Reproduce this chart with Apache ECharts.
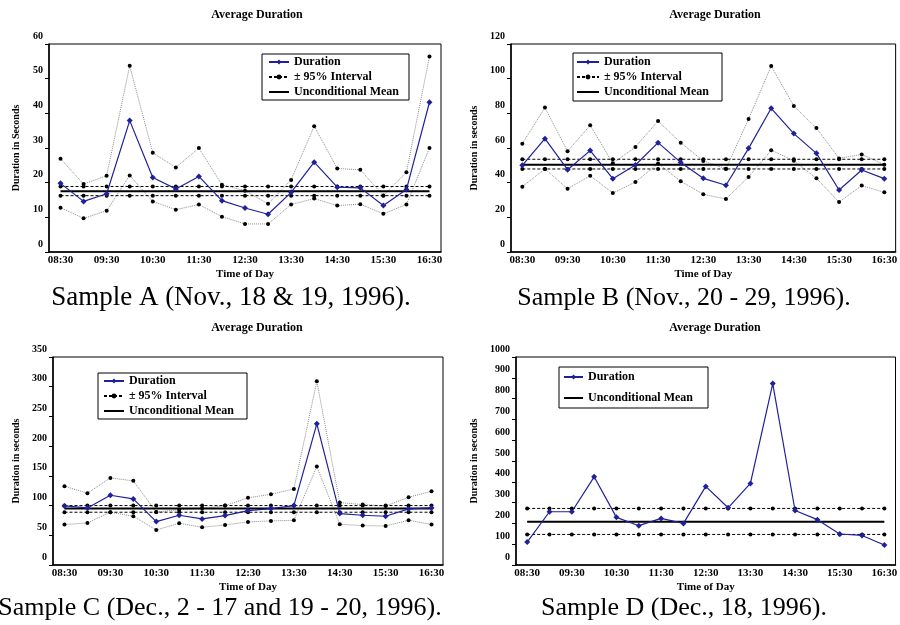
<!DOCTYPE html>
<html>
<head>
  <meta charset="utf-8">
  <title>Average Duration</title>
  <script src="https://cdn.jsdelivr.net/npm/echarts@6/dist/echarts.min.js"></script>
  <style>
    body { margin: 0; background: #fff; }
    #main { width: 900px; height: 625px; }
  </style>
</head>
<body>
<div id="main"></div>
<script type="text/javascript">

  // time slots (every half hour)
  var times = ['08:30', '09:00', '09:30', '10:00', '10:30', '11:00', '11:30', '12:00', '12:30',
               '13:00', '13:30', '14:00', '14:30', '15:00', '15:30', '16:00', '16:30'];

  // Sample A
  var durA = [19.8, 14.6, 16.8, 37.9, 21.5, 18.2, 21.8, 14.8, 12.7, 10.9, 17.2, 25.9, 18.7, 18.5, 13.4, 18.0, 43.2];
  var upA  = [26.9, 19.6, 22.0, 53.7, 28.6, 24.4, 30.0, 19.4, 17.7, 13.9, 20.8, 36.3, 24.1, 23.7, 16.3, 23.0, 56.4];
  var loA  = [12.8, 9.7, 11.9, 22.1, 14.6, 12.2, 13.7, 10.2, 8.1, 8.1, 13.7, 15.4, 13.4, 13.8, 11.0, 13.7, 30.0];
  var meanA = 17.5;
  var bandA = [16.25, 18.9];

  // Sample B
  var durB = [50.0, 65.4, 47.5, 58.5, 42.3, 50.2, 63.1, 51.7, 42.5, 38.5, 59.8, 82.9, 68.3, 56.9, 35.8, 47.3, 42.3];
  var upB  = [62.5, 83.3, 58.1, 73.1, 51.2, 60.6, 75.6, 63.1, 52.5, 48.1, 76.7, 107.3, 84.2, 71.5, 54.0, 56.3, 50.4];
  var loB  = [37.7, 47.9, 36.5, 44.0, 34.0, 40.4, 51.0, 40.8, 33.3, 30.6, 43.3, 58.7, 52.7, 42.5, 28.8, 38.3, 34.4];
  var meanB = 50.4;
  var bandB = [47.9, 53.5];

  // Sample C
  var durC = [99.4, 96, 117.4, 111.2, 73, 83.7, 77.5, 83.1, 91.6, 94.9, 100, 237.6, 86.5, 83.7, 82, 94.4, 96];
  var upC  = [132.6, 120.8, 146.6, 141.6, 89.3, 93, 95, 100, 113, 119, 128, 309, 105, 101.7, 99.4, 114, 124];
  var loC  = [68, 70.8, 88.8, 82, 59, 70.2, 63.5, 67.4, 72.5, 74.2, 75.3, 165.7, 68.5, 66.3, 65.7, 75.3, 68];
  var meanC = 95;
  var bandC = [88.8, 100];

  // Sample D
  var durD = [110, 256, 256, 424, 229, 189, 224, 200, 378, 275, 392, 872, 262, 218, 149, 142, 96];
  var meanD = 208;
  var bandD = [147, 272];

  var yMax = [60, 120, 350, 1000];
  var yStep = [10, 20, 50, 100];
  var yNames = ['Duration in Seconds', 'Duration in seconds', 'Duration in seconds', 'Duration in seconds'];
  var captions = ['Sample A (Nov., 18 & 19, 1996).', 'Sample B (Nov., 20 - 29, 1996).',
                  'Sample C (Dec., 2 - 17 and 19 - 20, 1996).', 'Sample D (Dec., 18, 1996).'];

  var FONT = '"Liberation Serif", "Times New Roman", serif';
  var BLUE = '#20209a';

  var panels = [
    {dur: durA, up: upA, lo: loA, mean: meanA, band: bandA},
    {dur: durB, up: upB, lo: loB, mean: meanB, band: bandB},
    {dur: durC, up: upC, lo: loC, mean: meanC, band: bandC},
    {dur: durD, up: null, lo: null, mean: meanD, band: bandD}
  ];

  // layout of the four panels
  var grids = [
    {left: 49, top: 44, width: 392, height: 208},
    {left: 511, top: 44, width: 390, height: 208},
    {left: 53, top: 357, width: 390, height: 208},
    {left: 516, top: 357, width: 386, height: 208}
  ];
  var yNameGap = [28, 32, 32, 37];
  var titlePos = [[257, 15], [715, 15], [257, 328], [715, 328]];
  var captionPos = [[231, 298], [684, 298], [220, 608], [684, 608]];
  var captionSize = [27, 26, 26, 26];
  var legendPos = [
    {left: 262, top: 54, padding: [2, 10, 2, 6], itemGap: 3, itemWidth: 20},
    {left: 573, top: 53, padding: [3, 13, 3, 3], itemGap: 3, itemWidth: 22},
    {left: 98, top: 373, padding: [2, 13, 2, 5], itemGap: 3, itemWidth: 20},
    {left: 559, top: 367, padding: [4, 15, 4, 4], itemGap: 9, itemWidth: 19}
  ];

  function flat(v) {
    return times.map(function () { return v; });
  }

  var option = {
    backgroundColor: '#fff',
    animation: false,
    grid: [], xAxis: [], yAxis: [], series: [], legend: [], graphic: []
  };

  panels.forEach(function (p, i) {
    option.grid.push({
      left: grids[i].left, top: grids[i].top, width: grids[i].width, height: grids[i].height,
      show: true, borderColor: '#000', borderWidth: 1, backgroundColor: 'transparent'
    });
    option.xAxis.push({
      gridIndex: i, type: 'category', data: times,
      name: 'Time of Day', nameLocation: 'middle', nameGap: 17,
      nameTextStyle: {fontFamily: FONT, fontWeight: 'bold', fontSize: 11, color: '#000'},
      axisLine: {lineStyle: {color: '#000', width: 1.5}},
      axisTick: {interval: 1, length: 4, lineStyle: {color: '#000'}},
      axisLabel: {interval: 1, margin: 3, fontFamily: FONT, fontWeight: 'bold', fontSize: 11, color: '#000'},
      splitLine: {show: false}
    });
    option.yAxis.push({
      gridIndex: i, type: 'value', min: 0, max: yMax[i], interval: yStep[i],
      name: yNames[i], nameLocation: 'middle', nameRotate: 90, nameGap: yNameGap[i],
      nameTextStyle: {fontFamily: FONT, fontWeight: 'bold', fontSize: 10, color: '#000'},
      axisLine: {show: true, lineStyle: {color: '#000', width: 1.5}},
      axisTick: {show: true, length: 4, lineStyle: {color: '#000'}},
      axisLabel: {margin: 6, fontFamily: FONT, fontWeight: 'bold', fontSize: 10, color: '#000',
                  verticalAlign: 'bottom', padding: [0, 0, 3, 0],
                  formatter: function (v) { return String(v); }},
      splitLine: {show: false}
    });

    var bandName = p.up ? '± 95% Interval' : 'Mean band';
    var dotted = {color: '#000', type: [3, 2], width: 1};

    if (p.up) {
      [p.up, p.lo].forEach(function (arr, k) {
        option.series.push({
          type: 'line', name: k ? 'Lower' : 'Upper', xAxisIndex: i, yAxisIndex: i, data: arr,
          symbol: 'circle', symbolSize: 4, showAllSymbol: true,
          lineStyle: {color: '#8c8c8c', type: 'dotted', width: 1},
          itemStyle: {color: '#000'}, z: 2
        });
      });
    }
    option.series.push({
      type: 'line', name: bandName, xAxisIndex: i, yAxisIndex: i, data: flat(p.band[1]),
      symbol: 'circle', symbolSize: 4, showAllSymbol: true,
      lineStyle: dotted, itemStyle: {color: '#000'}, z: 3
    });
    option.series.push({
      type: 'line', name: 'Unconditional Mean', xAxisIndex: i, yAxisIndex: i, data: flat(p.mean),
      symbol: 'none', lineStyle: {color: '#000', width: 2}, itemStyle: {color: '#000'}, z: 3
    });
    option.series.push({
      type: 'line', name: bandName, xAxisIndex: i, yAxisIndex: i, data: flat(p.band[0]),
      symbol: 'circle', symbolSize: 4, showAllSymbol: true,
      lineStyle: dotted, itemStyle: {color: '#000'}, z: 3
    });
    option.series.push({
      type: 'line', name: 'Duration', xAxisIndex: i, yAxisIndex: i, data: p.dur,
      symbol: 'diamond', symbolSize: 6, showAllSymbol: true,
      lineStyle: {color: BLUE, width: 1.2}, itemStyle: {color: BLUE}, z: 5
    });

    var lp = legendPos[i];
    var meanItem = {name: 'Unconditional Mean', itemStyle: {opacity: 0}};
    option.legend.push({
      left: lp.left, top: lp.top, orient: 'vertical', padding: lp.padding,
      itemGap: lp.itemGap, itemWidth: lp.itemWidth, itemHeight: 6,
      borderColor: '#000', borderWidth: 1, backgroundColor: '#fff',
      selectedMode: false,
      textStyle: {fontFamily: FONT, fontWeight: 'bold', fontSize: 12, color: '#000'},
      data: p.up ? ['Duration', '± 95% Interval', meanItem] : ['Duration', meanItem]
    });

    option.graphic.push({
      type: 'text', x: titlePos[i][0], y: titlePos[i][1],
      style: {text: 'Average Duration', align: 'center', verticalAlign: 'middle',
              font: 'bold 12px ' + FONT, fill: '#000'}
    });
    option.graphic.push({
      type: 'text', x: captionPos[i][0], y: captionPos[i][1],
      style: {text: captions[i], align: 'center', verticalAlign: 'middle',
              font: captionSize[i] + 'px ' + FONT, fill: '#000'}
    });
  });

  var myChart = echarts.init(document.getElementById('main'));
  myChart.setOption(option);

</script>
</body>
</html>
